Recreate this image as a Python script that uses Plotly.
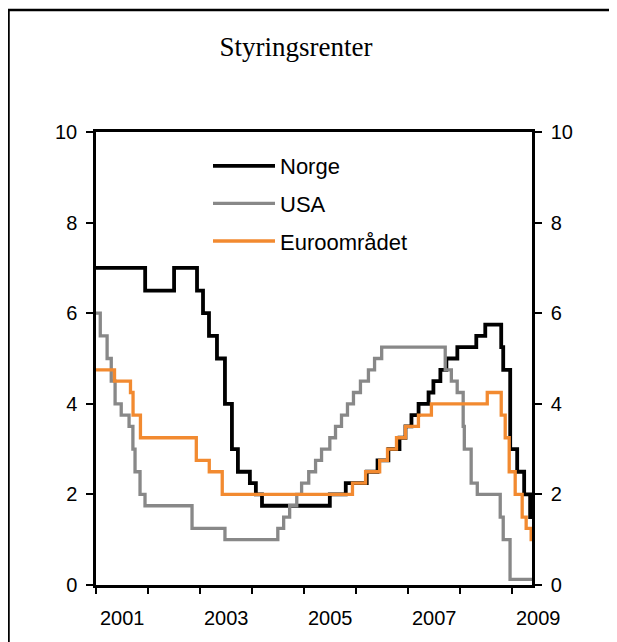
import plotly.graph_objects as go

# ---------------- data ----------------
norge_dates = ["2001-01-01", "2001-12-12", "2002-07-03", "2002-12-11", "2003-01-22", "2003-03-05",
               "2003-04-30", "2003-06-25", "2003-08-13", "2003-09-24", "2003-12-17", "2004-01-28",
               "2004-03-11", "2005-06-30", "2005-10-20", "2006-03-16", "2006-05-31", "2006-08-15",
               "2006-11-01", "2006-12-13", "2007-01-24", "2007-03-15", "2007-05-24", "2007-06-27",
               "2007-08-15", "2007-09-26", "2007-12-12", "2008-04-23", "2008-06-25", "2008-10-15",
               "2008-10-29", "2008-12-17", "2009-02-04", "2009-03-25", "2009-05-06", "2009-05-20"]
norge_rates = [7.0, 6.5, 7.0, 6.5, 6.0, 5.5,
               5.0, 4.0, 3.0, 2.5, 2.25, 2.0,
               1.75, 2.0, 2.25, 2.5, 2.75, 3.0,
               3.25, 3.5, 3.75, 4.0, 4.25, 4.5,
               4.75, 5.0, 5.25, 5.5, 5.75, 5.25,
               4.75, 3.0, 2.5, 2.0, 1.5, 1.5]

usa_dates = ["2001-01-01", "2001-01-31", "2001-03-20", "2001-04-18", "2001-05-15", "2001-06-27",
             "2001-08-21", "2001-09-17", "2001-10-02", "2001-11-06", "2001-12-11", "2002-11-06",
             "2003-06-25", "2004-06-30", "2004-08-10", "2004-09-21", "2004-11-10", "2004-12-14",
             "2005-02-02", "2005-03-22", "2005-05-03", "2005-06-30", "2005-08-09", "2005-09-20",
             "2005-11-01", "2005-12-13", "2006-01-31", "2006-03-28", "2006-05-10", "2006-06-29",
             "2007-09-18", "2007-10-31", "2007-12-11", "2008-01-22", "2008-01-30", "2008-03-18",
             "2008-04-30", "2008-10-08", "2008-10-29", "2008-12-16", "2009-05-20"]
usa_rates = [6.0, 5.5, 5.0, 4.5, 4.0, 3.75,
             3.5, 3.0, 2.5, 2.0, 1.75, 1.25,
             1.0, 1.25, 1.5, 1.75, 2.0, 2.25,
             2.5, 2.75, 3.0, 3.25, 3.5, 3.75,
             4.0, 4.25, 4.5, 4.75, 5.0, 5.25,
             4.75, 4.5, 4.25, 3.5, 3.0, 2.25,
             2.0, 1.5, 1.0, 0.125, 0.125]

euro_dates = ["2001-01-01", "2001-05-11", "2001-08-31", "2001-09-18", "2001-11-09", "2002-12-06",
              "2003-03-07", "2003-06-06", "2005-12-06", "2006-03-08", "2006-06-15", "2006-08-09",
              "2006-10-11", "2006-12-13", "2007-03-14", "2007-06-13", "2008-07-09", "2008-10-15",
              "2008-11-12", "2008-12-10", "2009-01-21", "2009-03-11", "2009-04-08", "2009-05-13",
              "2009-05-20"]
euro_rates = [4.75, 4.5, 4.25, 3.75, 3.25, 2.75,
              2.5, 2.0, 2.25, 2.5, 2.75, 3.0,
              3.25, 3.5, 3.75, 4.0, 4.25, 3.75,
              3.25, 2.5, 2.0, 1.5, 1.25, 1.0,
              1.0]

year_ticks = ["2001-01-01", "2002-01-01", "2003-01-01", "2004-01-01", "2005-01-01",
              "2006-01-01", "2007-01-01", "2008-01-01", "2009-01-01"]
year_labels = ["2001", "2003", "2005", "2007", "2009"]
year_label_anchor = ["2001-01-01", "2003-01-01", "2005-01-01", "2007-01-01", "2009-01-01"]
y_ticks = [0, 2, 4, 6, 8, 10]

# ---------------- geometry (page pixels; body has an 8px margin) ----------------
OFF = 8
W, H = 617 - OFF, 642 - OFF
PL, PR, PT, PB = 96, 532, 132, 585          # plot area in page pixels
ML, MR, MT, MB = PL - OFF, W - (PR - OFF), PT - OFF, H - (PB - OFF)
PW, PH = PR - PL, PB - PT

def px_x(p):
    return (p - PL) / PW

def px_y(p):
    return (PB - p) / PH

fig = go.Figure()
series = [
    ("Norge", norge_dates, norge_rates, "#000000", 3.8),
    ("USA", usa_dates, usa_rates, "#888888", 3.3),
    ("Euroområdet", euro_dates, euro_rates, "#F28A30", 3.3),
]
for name, xs, ys, col, lw in series:
    fig.add_trace(go.Scatter(x=xs, y=ys, name=name, mode="lines",
                             line=dict(color=col, width=lw, shape="hv"),
                             legendgroup=name))
# right axis twin (invisible) so right-hand ticks are real axis ticks
fig.add_trace(go.Scatter(x=norge_dates, y=norge_rates, yaxis="y2", mode="lines",
                         line=dict(color="rgba(0,0,0,0)", width=0, shape="hv"),
                         showlegend=False, hoverinfo="skip"))

tickfont = dict(family="Liberation Sans, Arial, sans-serif", size=20, color="#000000")

fig.update_layout(
    width=W, height=H,
    margin=dict(l=ML, r=MR, t=MT, b=MB, pad=0),
    paper_bgcolor="white", plot_bgcolor="white",
    showlegend=True,
    title=dict(text="Styringsrenter", x=(296 - OFF) / W, xref="container",
               y=1 - (47 - OFF) / H, yref="container", xanchor="center", yanchor="middle",
               font=dict(family="Liberation Serif, Times New Roman, serif", size=27, color="#000000")),
    legend=dict(x=px_x(208), y=px_y(145), xanchor="left", yanchor="top",
                bgcolor="rgba(0,0,0,0)", borderwidth=0,
                font=dict(family="Liberation Sans, Arial, sans-serif", size=22, color="#000000"),
                itemwidth=62, tracegroupgap=6, traceorder="grouped"),
    xaxis=dict(type="date", range=["2001-01-01", "2009-05-19"],
               tickmode="array", tickvals=year_ticks, ticktext=[""] * len(year_ticks),
               ticks="outside", ticklen=6, tickwidth=2, tickcolor="#000000",
               showline=True, linecolor="#000000", linewidth=2.5, mirror=True,
               showgrid=False, zeroline=False),
    yaxis=dict(range=[0, 10], tickmode="array", tickvals=y_ticks,
               ticks="outside", ticklen=7, tickwidth=2, tickcolor="#000000",
               showline=True, linecolor="#000000", linewidth=2.5,
               showgrid=False, zeroline=False, tickfont=tickfont, ticklabelstandoff=5),
    yaxis2=dict(range=[0, 10], overlaying="y", side="right", tickmode="array", tickvals=y_ticks,
                ticks="outside", ticklen=7, tickwidth=2, tickcolor="#000000",
                showline=True, linecolor="#000000", linewidth=2.5,
                showgrid=False, zeroline=False, tickfont=tickfont, ticklabelstandoff=5),
)

# year labels centred between the yearly ticks (half a year to the right of each January tick)
for lab, pos in zip(year_labels, year_label_anchor):
    fig.add_annotation(x=pos, y=0, xref="x", yref="paper", text=lab, showarrow=False,
                       xanchor="center", yanchor="top", xshift=26, yshift=-20, font=tickfont)

# outer frame of the chart
fig.add_shape(type="rect", xref="paper", yref="paper",
              x0=px_x(8.5), x1=px_x(611), y0=px_y(660), y1=px_y(10),
              line=dict(color="#000000", width=2.5), fillcolor="rgba(0,0,0,0)", layer="above")

fig.write_html("out.html")
